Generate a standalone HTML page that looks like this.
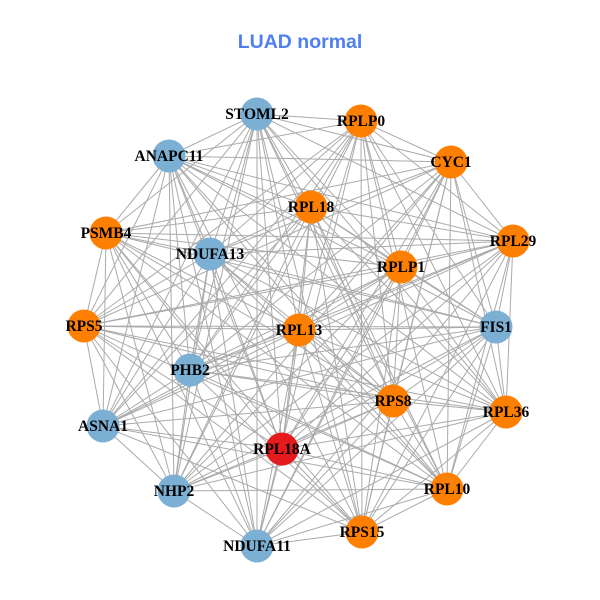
<!DOCTYPE html>
<html><head><meta charset="utf-8"><style>
html,body{margin:0;padding:0;background:#fff;width:600px;height:600px;overflow:hidden}
</style></head><body>
<svg id="s" width="600" height="600" xmlns="http://www.w3.org/2000/svg">
<text x="300" y="48" text-anchor="middle" font-family="Liberation Sans, sans-serif" font-weight="bold" font-size="19.5" fill="#4F7FEF">LUAD normal</text>
<g id="e" stroke="#aaaaaa" stroke-width="1"></g>
<g id="n"></g>
</svg>
<script>
var O="#FF7F00",B="#7BAFD4",R="#E41A1C";
var N=[["STOML2",257,114,B],["RPLP0",361,121,O],["ANAPC11",169,156,B],["CYC1",451,162,O],["RPL18",311,207,O],["PSMB4",106,233,O],["NDUFA13",210,254,B],["RPL29",513,241,O],["RPLP1",401,267,O],["RPS5",84,326,O],["RPL13",299,330,O],["FIS1",496,327,B],["PHB2",190,370,B],["RPS8",393,401,O],["RPL36",506,412,O],["ASNA1",103,426,B],["RPL18A",282,449,R],["NHP2",174,491,B],["RPL10",447,489,O],["RPS15",362,532,O],["NDUFA11",257,546,B]];
var ns="http://www.w3.org/2000/svg",e=document.getElementById("e"),g=document.getElementById("n");
for(var i=0;i<N.length;i++)for(var j=i+1;j<N.length;j++){
 if((i*7+j*3)%11==0)continue;
 var l=document.createElementNS(ns,"line");
 l.setAttribute("x1",N[i][1]);l.setAttribute("y1",N[i][2]);l.setAttribute("x2",N[j][1]);l.setAttribute("y2",N[j][2]);e.appendChild(l);}
N.forEach(function(d){
 var c=document.createElementNS(ns,"circle");c.setAttribute("cx",d[1]);c.setAttribute("cy",d[2]);c.setAttribute("r",16.5);c.setAttribute("fill",d[3]);g.appendChild(c);});
N.forEach(function(d){
 var t=document.createElementNS(ns,"text");t.setAttribute("x",d[1]);t.setAttribute("y",d[2]+5);t.setAttribute("text-anchor","middle");
 t.setAttribute("font-family","Liberation Serif, serif");t.setAttribute("font-weight","bold");t.setAttribute("font-size","15.5");t.textContent=d[0];g.appendChild(t);});
</script>
</body></html>
